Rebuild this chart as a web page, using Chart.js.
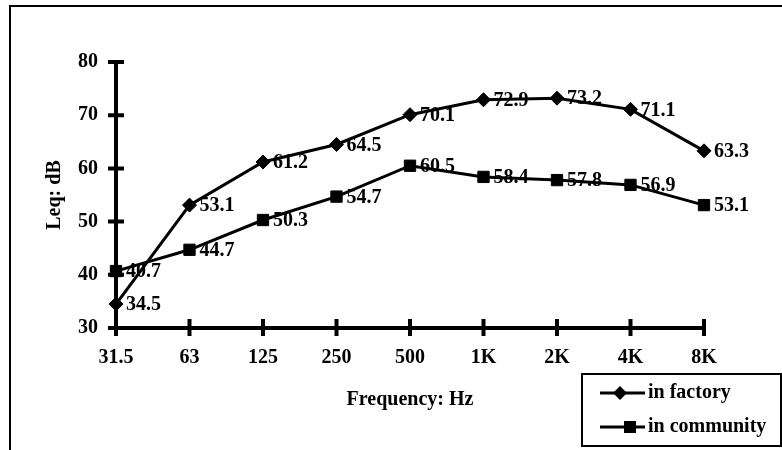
<!DOCTYPE html>
<html>
<head>
<meta charset="utf-8">
<script src="https://cdn.jsdelivr.net/npm/chart.js"></script>
<style>
  html, body { margin: 0; padding: 0; background: #fff; }
  #wrap { width: 782px; height: 450px; }
</style>
</head>
<body>
<div id="wrap"><canvas id="myChart" width="782" height="450"></canvas></div>
<script>
// data
const freqLabels = ['31.5', '63', '125', '250', '500', '1K', '2K', '4K', '8K'];
const factoryLeq = [34.5, 53.1, 61.2, 64.5, 70.1, 72.9, 73.2, 71.1, 63.3];
const communityLeq = [40.7, 44.7, 50.3, 54.7, 60.5, 58.4, 57.8, 56.9, 53.1];
const seriesNames = ['in factory', 'in community'];

const FONT = 'bold 20px "Liberation Serif", "Times New Roman", serif';
const axisFont = { family: '"Liberation Serif", serif', size: 20, weight: 'bold' };

// frame lines round the figure (left + top only, rest is cut off)
const framePlugin = {
  id: 'frame',
  beforeDraw(chart) {
    const ctx = chart.ctx;
    ctx.save();
    ctx.strokeStyle = '#000';
    ctx.lineWidth = 2;
    ctx.beginPath();
    ctx.moveTo(10, 450);
    ctx.lineTo(10, 6);
    ctx.lineTo(782, 6);
    ctx.stroke();
    ctx.restore();
  }
};

// tick marks crossing the axes
const crossTicks = {
  id: 'crossTicks',
  afterDraw(chart) {
    const ctx = chart.ctx;
    const x = chart.scales.x, y = chart.scales.y;
    ctx.save();
    ctx.strokeStyle = '#000';
    ctx.lineWidth = 4;
    ctx.beginPath();
    y.ticks.forEach((t, i) => {
      const py = y.getPixelForTick(i);
      ctx.moveTo(x.left - 8, py);
      ctx.lineTo(x.left + 8, py);
    });
    x.ticks.forEach((t, i) => {
      const px = x.getPixelForTick(i);
      ctx.moveTo(px, y.bottom - 9);
      ctx.lineTo(px, y.bottom + 8);
    });
    ctx.stroke();
    ctx.restore();
  }
};

// value labels right of each point
const valueLabels = {
  id: 'valueLabels',
  afterDatasetsDraw(chart) {
    const ctx = chart.ctx;
    ctx.save();
    ctx.font = FONT;
    ctx.fillStyle = '#000';
    ctx.textAlign = 'left';
    ctx.textBaseline = 'middle';
    chart.data.datasets.forEach((ds, di) => {
      chart.getDatasetMeta(di).data.forEach((pt, i) => {
        ctx.fillText(ds.data[i].toFixed(1), pt.x + 10, pt.y + 1);
      });
    });
    ctx.restore();
  }
};

// boxed legend, bottom right
const boxLegend = {
  id: 'boxLegend',
  afterDraw(chart) {
    const ctx = chart.ctx;
    ctx.save();
    ctx.strokeStyle = '#000';
    ctx.lineWidth = 2;
    ctx.strokeRect(582, 374, 199, 72);
    const rows = [393, 427];
    chart.data.datasets.forEach((ds, i) => {
      const yy = rows[i];
      ctx.lineWidth = 3;
      ctx.beginPath();
      ctx.moveTo(600, yy);
      ctx.lineTo(645, yy);
      ctx.stroke();
      ctx.fillStyle = '#000';
      ctx.beginPath();
      if (ds.pointStyle === 'rectRot') {
        const cx = 620, r = 7;
        ctx.moveTo(cx, yy - r);
        ctx.lineTo(cx + r, yy);
        ctx.lineTo(cx, yy + r);
        ctx.lineTo(cx - r, yy);
        ctx.closePath();
      } else {
        ctx.rect(624, yy - 6, 12, 12);
      }
      ctx.fill();
      ctx.font = FONT;
      ctx.textAlign = 'left';
      ctx.textBaseline = 'middle';
      ctx.fillText(ds.label, 648, yy);
    });
    ctx.restore();
  }
};

const data = {
  labels: freqLabels,
  datasets: [
    {
      label: seriesNames[0],
      data: factoryLeq,
      borderColor: '#000',
      backgroundColor: '#000',
      borderWidth: 3,
      pointStyle: 'rectRot',
      pointRadius: 7,
      pointBorderWidth: 1,
      tension: 0,
      clip: false
    },
    {
      label: seriesNames[1],
      data: communityLeq,
      borderColor: '#000',
      backgroundColor: '#000',
      borderWidth: 3,
      pointStyle: 'rect',
      pointRadius: 8,
      pointBorderWidth: 1,
      tension: 0,
      clip: false
    }
  ]
};

const config = {
  type: 'line',
  data,
  options: {
    responsive: false,
    animation: false,
    layout: { padding: { left: 30, right: 78, top: 62, bottom: 0 } },
    scales: {
      x: {
        offset: false,
        grid: { display: false, drawTicks: false },
        border: { display: true, color: '#000', width: 4 },
        ticks: {
          color: '#000',
          font: axisFont,
          padding: 18,
          autoSkip: false,
          maxRotation: 0
        },
        title: {
          display: true,
          text: 'Frequency: Hz',
          color: '#000',
          font: axisFont,
          padding: { top: 0, bottom: 38 }
        },
        afterFit(scale) { scale.height = 122; }
      },
      y: {
        min: 30,
        max: 80,
        grid: { display: false, drawTicks: false },
        border: { display: true, color: '#000', width: 4 },
        ticks: {
          stepSize: 10,
          color: '#000',
          font: axisFont,
          padding: 18
        },
        title: {
          display: true,
          text: 'Leq: dB',
          color: '#000',
          font: axisFont,
          padding: { top: 13, bottom: 0 }
        },
        afterFit(scale) { scale.width = 86; }
      }
    },
    plugins: {
      legend: { display: false },
      tooltip: { enabled: false }
    }
  },
  plugins: [framePlugin, crossTicks, valueLabels, boxLegend]
};

const myChart = new Chart(document.getElementById('myChart'), config);
</script>
</body>
</html>
